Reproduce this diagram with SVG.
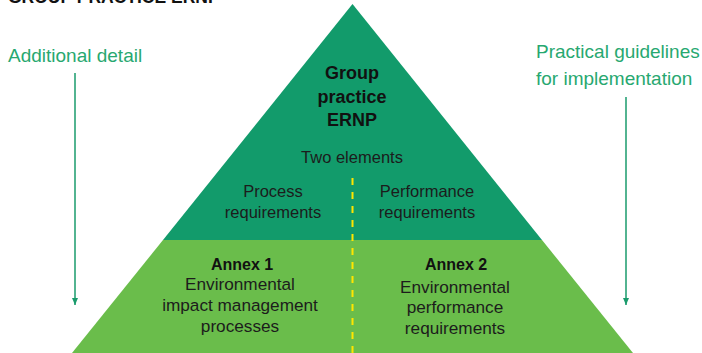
<svg xmlns="http://www.w3.org/2000/svg" width="702" height="353" viewBox="0 0 702 353">
  <style>
    text { font-family: "Liberation Sans", Arial, sans-serif; fill: #1c1c1c; }
    .title { font-size: 17.5px; font-weight: bold; fill: #111; }
    .side { font-size: 19px; fill: #27a870; }
    .head { font-size: 18px; font-weight: bold; fill: #111; text-anchor: middle; }
    .body { font-size: 16.5px; text-anchor: middle; }
    .annex { font-size: 17.2px; text-anchor: middle; }
    .annex-title { font-size: 16px; font-weight: bold; text-anchor: middle; fill: #111; }
    .flow { stroke: #1a9b6c; stroke-width: 1.5; fill: none; }
    .divider { stroke: #ffe600; stroke-width: 2; stroke-dasharray: 7 7; fill: none; }
  </style>
  <defs>
    <marker id="tip" viewBox="0 0 7 6" refX="7" refY="3" markerWidth="7" markerHeight="6" markerUnits="userSpaceOnUse" orient="auto">
      <path d="M0,0 L7,3 L0,6 Z" fill="#1a9b6c"/>
    </marker>
  </defs>

  <!-- heading, cropped at the top edge -->
  <text class="title" x="8" y="3">GROUP PRACTICE ERNP</text>

  <!-- pyramid upper tier -->
  <g id="tier-top">
    <polygon points="352.5,4 542,240 163,240" fill="#129b6b"/>
    <text class="head" x="352" y="79">Group</text>
    <text class="head" x="352" y="103">practice</text>
    <text class="head" x="352" y="126">ERNP</text>
    <text class="body" x="352" y="163">Two elements</text>
    <text class="body" x="273" y="197">Process</text>
    <text class="body" x="273" y="218">requirements</text>
    <text class="body" x="427" y="197">Performance</text>
    <text class="body" x="427" y="218">requirements</text>
  </g>

  <!-- pyramid lower tier -->
  <g id="tier-bottom">
    <polygon points="163,240 542,240 633,353 72,353" fill="#6abd4b"/>
    <text class="annex-title" x="242" y="270">Annex 1</text>
    <text class="annex" x="240" y="290">Environmental</text>
    <text class="annex" x="240" y="311">impact management</text>
    <text class="annex" x="240" y="332">processes</text>
    <text class="annex-title" x="456" y="270">Annex 2</text>
    <text class="annex" x="455" y="293">Environmental</text>
    <text class="annex" x="455" y="313">performance</text>
    <text class="annex" x="455" y="334">requirements</text>
  </g>

  <!-- side labels -->
  <g id="label-left">
    <text class="side" x="8" y="62">Additional detail</text>
  </g>
  <g id="label-right">
    <text class="side" x="536" y="58">Practical guidelines</text>
    <text class="side" x="536" y="85">for implementation</text>
  </g>

  <!-- connectors -->
  <g id="connectors">
    <line class="divider" x1="352.5" y1="178" x2="352.5" y2="353"/>
    <line class="flow" x1="75" y1="73" x2="75" y2="305" marker-end="url(#tip)"/>
    <line class="flow" x1="626" y1="97" x2="626" y2="305" marker-end="url(#tip)"/>
  </g>
</svg>
